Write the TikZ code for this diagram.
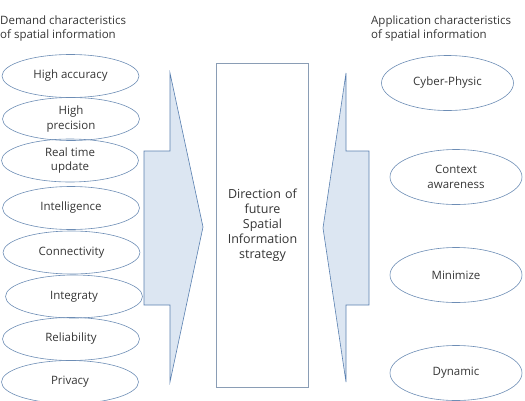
\documentclass[tikz,border=0pt]{standalone}
\usepackage{fontspec}
\setmainfont{Open Sans}
\usetikzlibrary{shapes.geometric}
\definecolor{ink}{HTML}{353535}
\definecolor{edge}{HTML}{6D8DB5}
\definecolor{arrfill}{HTML}{DCE6F2}
\definecolor{arredge}{HTML}{5A80B0}
\definecolor{rectedge}{HTML}{8A9DB5}
\begin{document}
\begin{tikzpicture}[x=1pt,y=-1pt,
  every node/.style={text=ink, font=\fontsize{11.5}{14.5}\selectfont},
  lell/.style={ellipse, draw=edge, line width=0.6pt, minimum width=137pt, minimum height=43pt, inner sep=0pt, align=center},
  rell/.style={ellipse, draw=edge, line width=0.6pt, minimum width=132pt, minimum height=55pt, inner sep=0pt, align=center},
  bigarrow/.style={fill=arrfill, draw=arredge, line width=0.6pt, line join=miter},
  hdr/.style={anchor=north west, align=left, inner sep=0pt, font=\fontsize{11.5}{13.5}\selectfont}
]
\useasboundingbox (0,0) rectangle (525,400);
% headers
\node[hdr] (hl) at (0,16) {Demand characteristics\\of spatial information};
\node[hdr] (hr) at (371,16) {Application characteristics\\of spatial information};
% left arrow
\draw[bigarrow] (170,73) -- (170,151) -- (144,151) -- (144,305) -- (170,305) -- (170,382) -- (203,227) -- cycle;
% right arrow
\draw[bigarrow] (346,73) -- (346,151) -- (369,151) -- (369,305) -- (346,305) -- (346,382) -- (323,228) -- cycle;
% center box
\node[draw=rectedge, line width=0.6pt, minimum width=92pt, minimum height=324pt, inner sep=0pt, text width=90pt, align=center, font=\fontsize{12.5}{15}\selectfont] (ctr) at (262.5,225.5) {Direction of\\future\\Spatial\\Information\\strategy};
% left ellipses
\node[lell] (l1) at (70.5,76) {High accuracy};
\node[lell] (l2) at (71,119) {High\\precision};
\node[lell] (l3) at (70,160.5) {Real time\\update};
\node[lell] (l4) at (71,208) {Intelligence};
\node[lell] (l5) at (71.5,252.5) {Connectivity};
\node[lell] (l6) at (74,296.5) {Integraty};
\node[lell] (l7) at (71,339) {Reliability};
\node[lell] (l8) at (70,382) {Privacy};
% right ellipses
\node[rell] (r1) at (447.5,83) {Cyber-Physic};
\node[rell] (r2) at (456,177) {Context\\awareness};
\node[rell] (r3) at (456,275) {Minimize};
\node[rell] (r4) at (456,373) {Dynamic};
\end{tikzpicture}
\end{document}
